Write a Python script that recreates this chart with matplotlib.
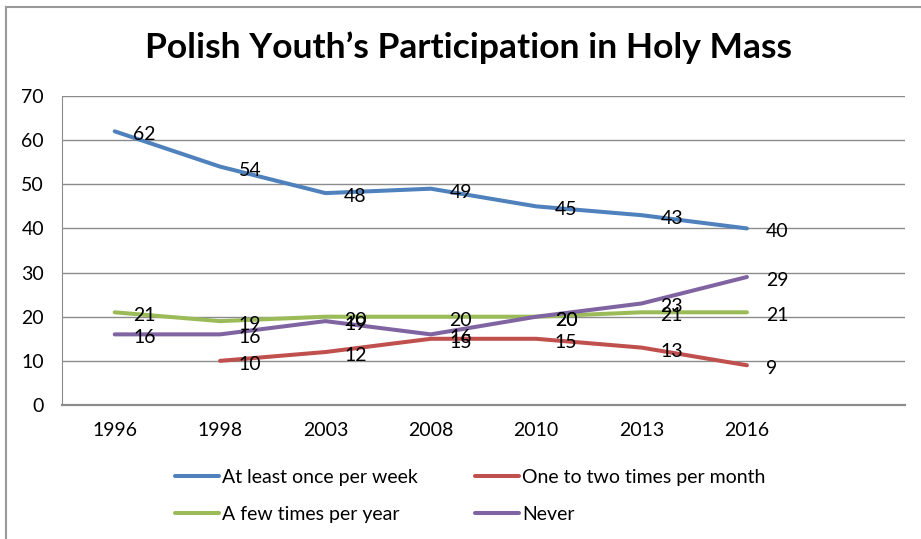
import numpy as np
from matplotlib import pyplot as plt
from matplotlib.lines import Line2D

plt.rcParams['font.family'] = ['Lato', 'DejaVu Sans']

years = ["1996", "1998", "2003", "2008", "2010", "2013", "2016"]
weekly = [62, 54, 48, 49, 45, 43, 40]
monthly = [np.nan, 10, 12, 15, 15, 13, 9]
yearly = [21, 19, 20, 20, 20, 21, 21]
never = [16, 16, 19, 16, 20, 23, 29]

names = ["At least once per week", "One to two times per month",
         "A few times per year", "Never"]
series = [weekly, monthly, yearly, never]
colors = ["#4F81BD", "#C0504D", "#9BBB59", "#8064A2"]

fig = plt.figure(figsize=(9.21, 5.39), dpi=100)
ax = fig.add_axes([62/921, 1-405/539, (905-62)/921, (405-96)/539])

x = np.arange(len(years))
lines = []
for vals, c, name in zip(series, colors, names):
    ln, = ax.plot(x, vals, color=c, lw=2.9, solid_capstyle='round', label=name)
    lines.append(ln)
    for xi, v in zip(x, vals):
        if np.isnan(v):
            continue
        ax.annotate(str(int(v)), (xi, v), xytext=(13.5, -2.5), textcoords='offset points',
                    ha='left', va='center', fontsize=14)

ax.set_xlim(-0.5, 7.5)
ax.set_ylim(0, 70)
ax.set_yticks(range(0, 71, 10))
ax.set_xticks(x)
ax.set_xticklabels(years)
ax.tick_params(axis='both', length=0, labelsize=14)
ax.tick_params(axis='x', pad=12)
ax.tick_params(axis='y', pad=13)
ax.grid(axis='y', color='#8c8c8c', lw=1)
ax.set_axisbelow(True)
for s in ['top', 'right']:
    ax.spines[s].set_visible(False)
ax.spines['left'].set_color('#8c8c8c')
ax.spines['bottom'].set_color('#8c8c8c')
ax.spines['bottom'].set_linewidth(1.6)

fig.text(468/921, 1-48/539, "Polish Youth\u2019s Participation in Holy Mass",
         ha='center', va='center', fontsize=25.5, fontweight='bold')

order = [lines[0], lines[2], lines[1], lines[3]]
fig.legend(order, [l.get_label() for l in order], ncol=2, loc='center left',
           bbox_to_anchor=(175/921, 1-496/539), frameon=False, fontsize=14,
           handlelength=2.27, handletextpad=0.15, columnspacing=2.95,
           labelspacing=1.05, borderpad=0, borderaxespad=0)

# outer chart border
fig.add_artist(Line2D([6/921, 6/921], [0, 1-7/539], color='#9a9a9a', lw=1.5))
fig.add_artist(Line2D([6/921, 1], [1-7/539, 1-7/539], color='#9a9a9a', lw=1.5))

fig.savefig("out.png", dpi=100)
